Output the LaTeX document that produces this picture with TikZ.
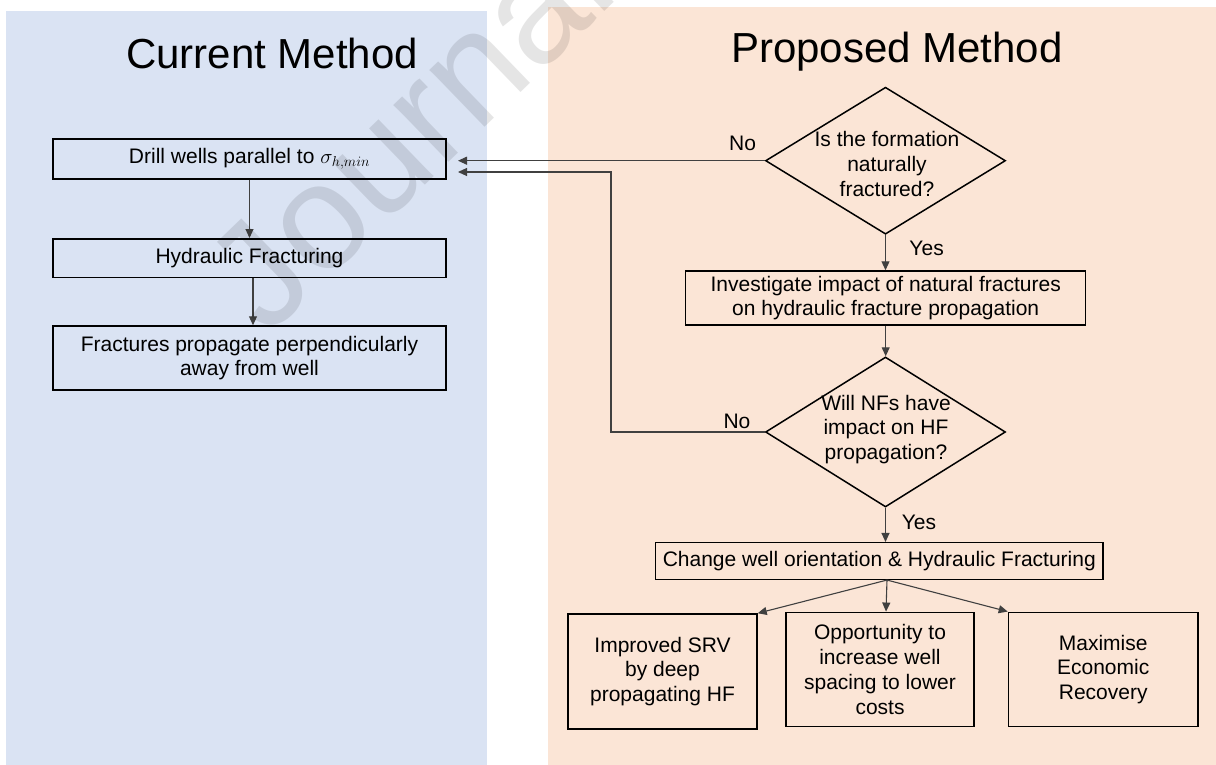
\documentclass[tikz,border=0pt]{standalone}
\usepackage{fontspec}
\setmainfont{Liberation Sans}
\usetikzlibrary{shapes.geometric,arrows.meta}
\definecolor{pblue}{HTML}{DAE3F3}
\definecolor{ppeach}{HTML}{FBE5D6}
\definecolor{connc}{HTML}{404040}
\newcommand{\fsz}{\fontsize{21}{24.7}\selectfont}
\newcommand{\fttl}{\fontsize{42}{50}\selectfont}
\begin{document}
\begin{tikzpicture}[x=1pt,y=-1pt,
  box/.style={draw=black, line width=1.5pt, rectangle, inner sep=0pt, align=center, font=\fsz},
  dia/.style={draw=black, line width=1.5pt, diamond, inner sep=0pt, minimum width=240pt},
  txt/.style={align=center, font=\fsz, inner sep=0pt},
  lbl/.style={font=\fsz, inner sep=0pt},
  conn/.style={draw=connc, line width=1.1pt, -{Triangle[length=9pt,width=8pt]}},
  ttl/.style={font=\fttl, anchor=base, inner sep=0pt}]
\useasboundingbox (0,0) rectangle (1216,765);
% panels
\fill[pblue] (6,11) rectangle (487,765);
\fill[ppeach] (548,7) rectangle (1216,765);
% titles
\node[ttl] (tcur) at (272,68.3) {Current Method};
\node[ttl] (tprop) at (897,63) {Proposed Method};
% left column
\node[box, minimum width=393pt, minimum height=40pt] (drill) at (249.5,159) {Drill wells parallel to $\sigma_{h,min}$};
\node[box, minimum width=393pt, minimum height=38.5pt] (hf) at (249.5,258) {Hydraulic Fracturing};
\node[box, minimum width=393pt, minimum height=64pt] (fr) at (249.5,358) {Fractures propagate perpendicularly\\away from well};
% right column
\node[dia, minimum height=147pt] (d1) at (885.5,160.7) {};
\node[txt] (d1t) at (887,164) {Is the formation\\naturally\\fractured?};
\node[box, minimum width=400pt, minimum height=54pt] (inv) at (885.7,298) {Investigate impact of natural fractures\\on hydraulic fracture propagation};
\node[dia, minimum height=150pt] (d2) at (885.5,432) {};
\node[txt] (d2t) at (886,429.5) {Will NFs have\\impact on HF\\propagation?};
\node[box, minimum width=447.5pt, minimum height=36.6pt] (chg) at (879.3,561) {Change well orientation \& Hydraulic Fracturing};
\node[box, minimum width=189pt, minimum height=115pt] (b1) at (662.5,671.5) {Improved SRV\\by deep\\propagating HF};
\node[box, minimum width=188pt, minimum height=114.4pt] (b2) at (880,669.5) {Opportunity to\\increase well\\spacing to lower\\costs};
\node[box, minimum width=189.5pt, minimum height=114.4pt] (b3) at (1103.2,669.5) {Maximise\\Economic\\Recovery};
% labels
\node[lbl] (no1) at (742.6,143) {No};
\node[lbl] (no2) at (737,421) {No};
\node[lbl] (yes1) at (926.6,248) {Yes};
\node[lbl] (yes2) at (919,522.7) {Yes};
% connector end points
\coordinate (t1) at (458,160.7);
\coordinate (t2) at (458,172);
\coordinate (k) at (611,172);
% connectors
\draw[conn] (drill.south) -- (hf.north);
\draw[conn] ([xshift=3.5pt]hf.south) -- ([xshift=3.5pt]fr.north);
\draw[conn] (d1.south) -- (d1.south |- inv.north);
\draw[conn] (inv.south) -- (inv.south |- d2.north);
\draw[conn] (d2.south) -- (d2.south |- chg.north);
\draw[conn] ([xshift=7.7pt]chg.south) -- (b1.north east);
\draw[conn] ([xshift=7.7pt]chg.south) -- ([xshift=6pt]b2.north);
\draw[conn] ([xshift=7.7pt]chg.south) -- (b3.north west);
\draw[conn] (d1.west) -- (t1);
\draw[conn] (d2.west) -| (k) -- (t2);
% watermark
\begin{scope}
\clip (0,0) rectangle (1216,765);
\node[font=\fontsize{150}{150}\selectfont, text=black, text opacity=0.1, rotate=44, inner sep=0pt] (wm) at (407,128) {Journal};
\end{scope}
\end{tikzpicture}
\end{document}
